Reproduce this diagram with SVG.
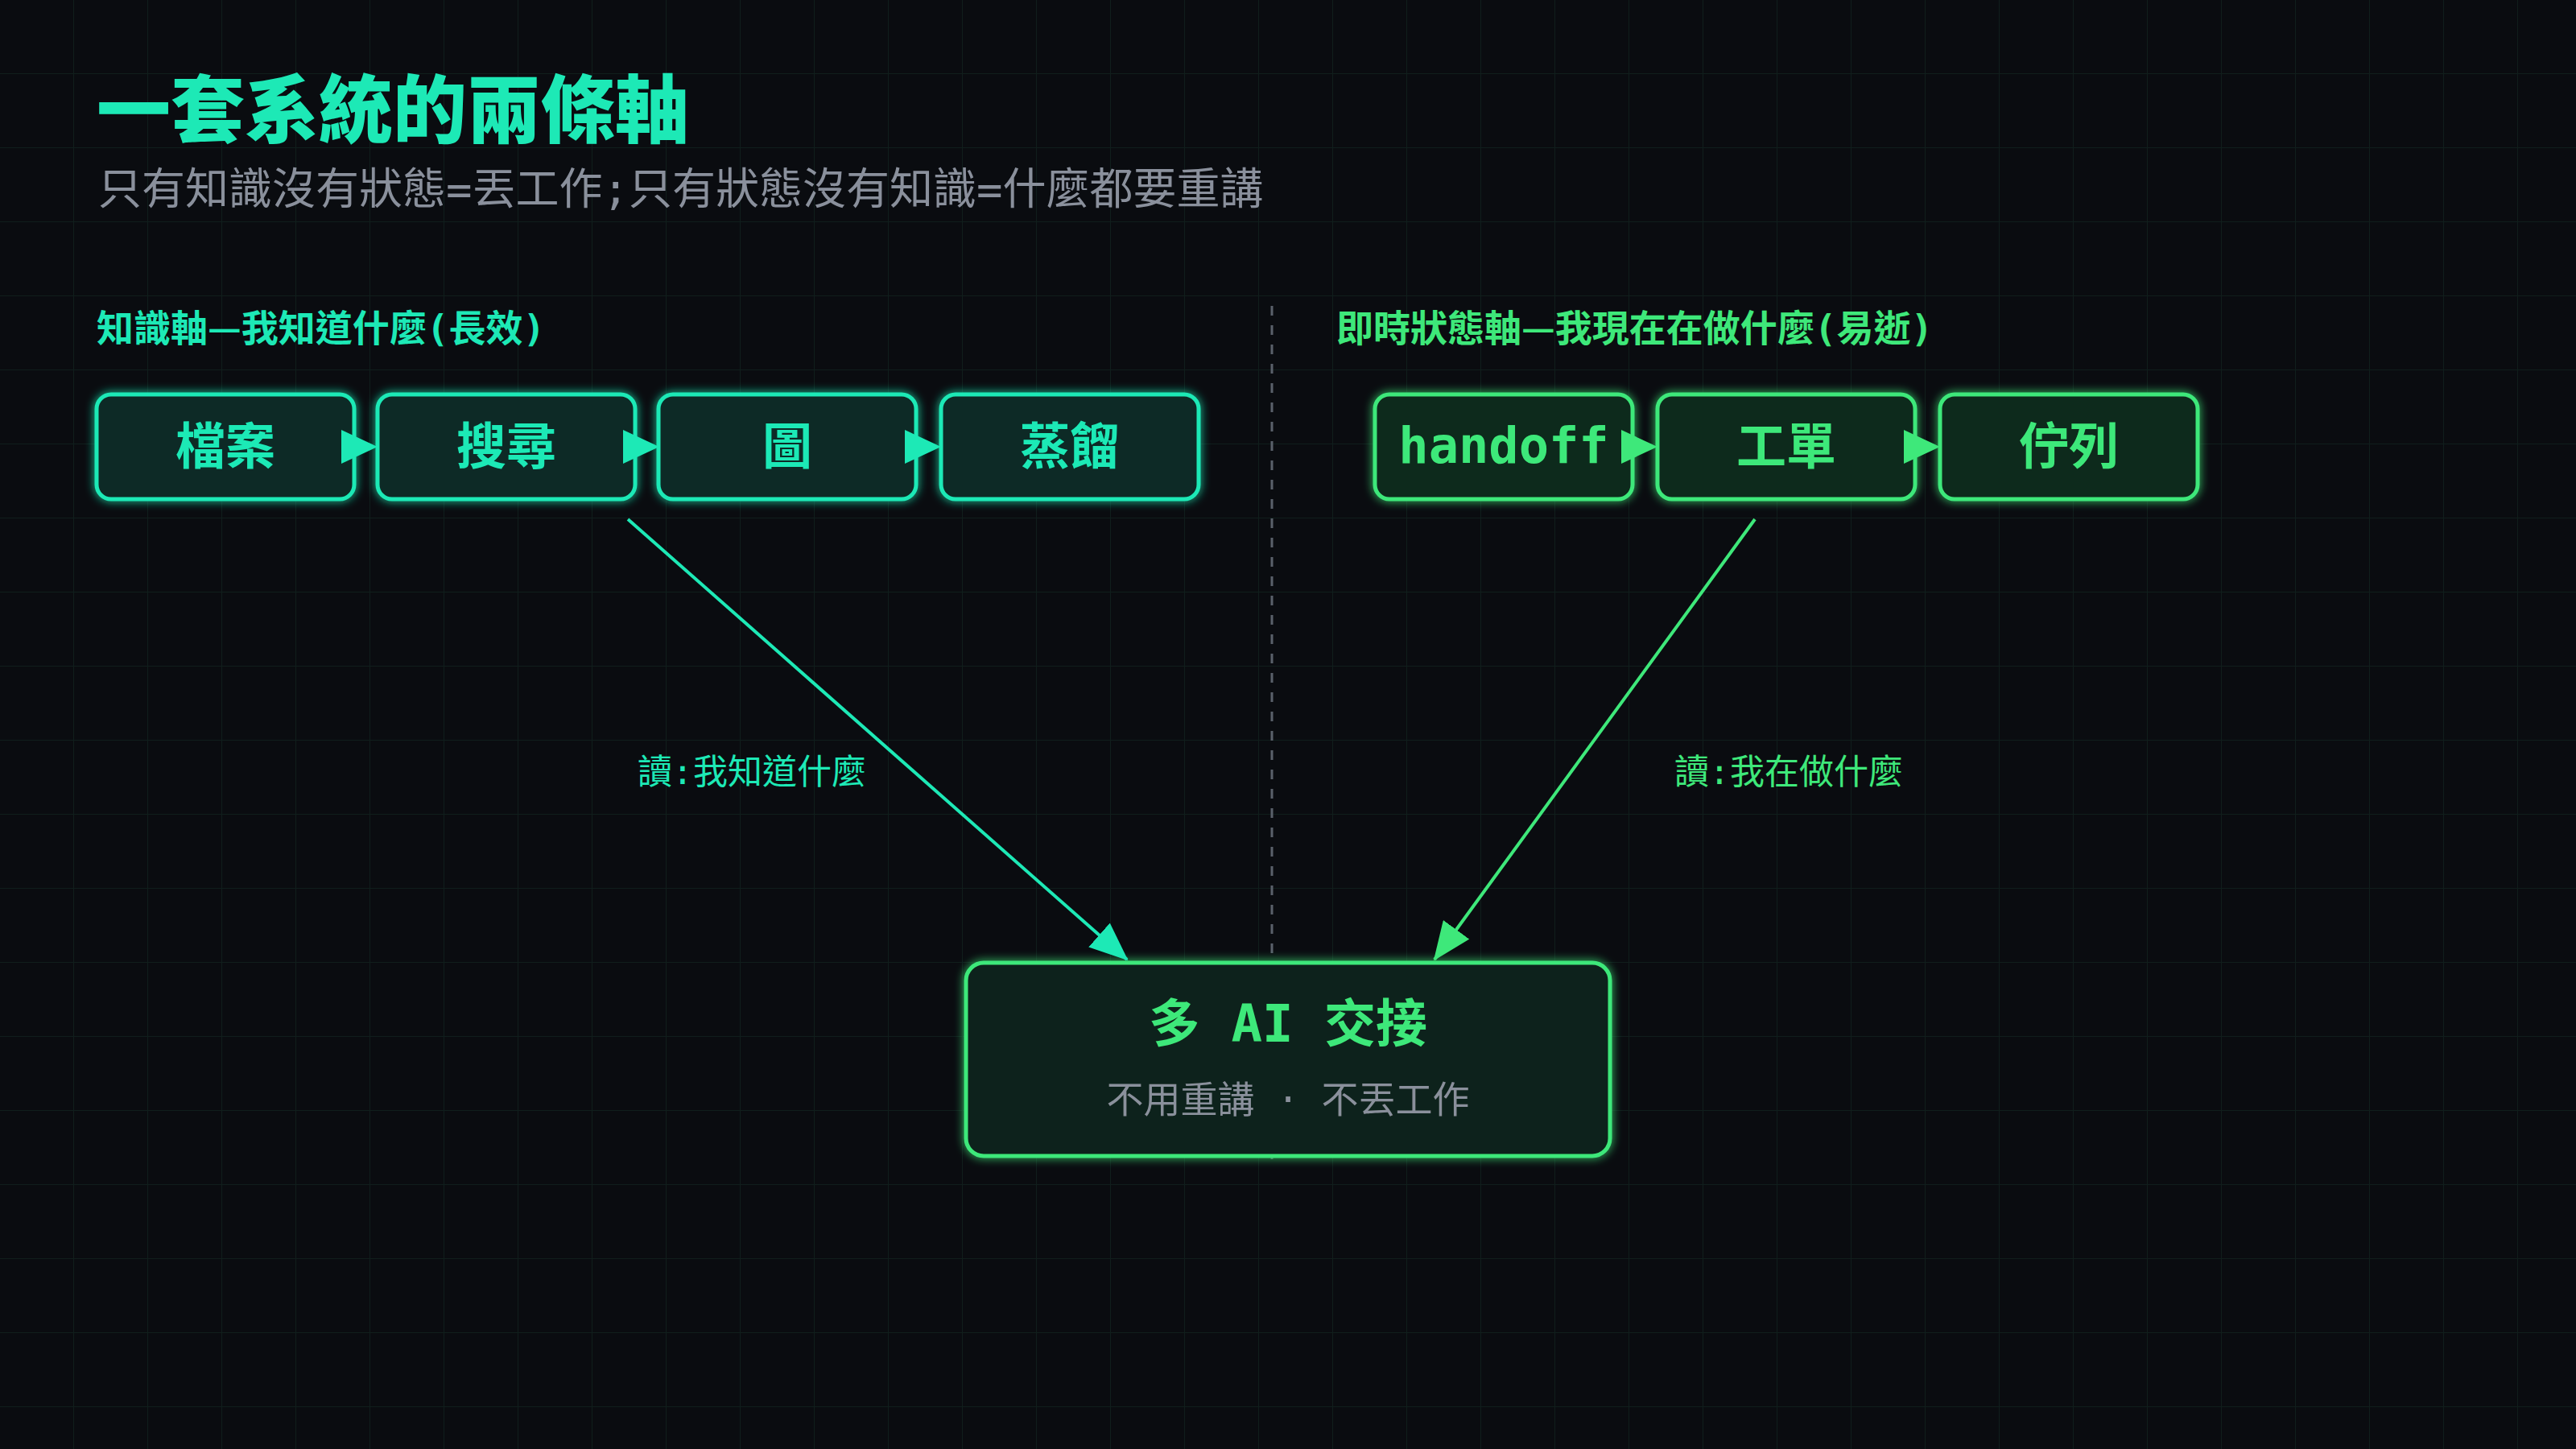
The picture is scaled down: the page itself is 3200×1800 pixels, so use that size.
<svg xmlns="http://www.w3.org/2000/svg" width="3200" height="1800" viewBox="0 0 3200 1800">
<defs>
<pattern id="grid" width="92" height="92" patternUnits="userSpaceOnUse"><path d="M92 0V92M0 92H92" stroke="#163028" stroke-width="2" fill="none" opacity="0.5"/></pattern>
<filter id="glow" x="-20%" y="-20%" width="140%" height="140%"><feGaussianBlur stdDeviation="6" result="b"/><feMerge><feMergeNode in="b"/><feMergeNode in="SourceGraphic"/></feMerge></filter>
<marker id="ta" markerWidth="48" markerHeight="40" refX="46" refY="20" orient="auto" markerUnits="userSpaceOnUse" viewBox="0 0 48 40"><path d="M0,0L48,20L0,40z" fill="#1de9b6"/></marker>
<marker id="ga" markerWidth="48" markerHeight="40" refX="46" refY="20" orient="auto" markerUnits="userSpaceOnUse" viewBox="0 0 48 40"><path d="M0,0L48,20L0,40z" fill="#3ee87a"/></marker>
</defs>
<style>
text{font-family:"DejaVu Sans Mono","Noto Sans CJK TC","Noto Sans CJK SC",monospace}
.cjk{font-family:"Noto Sans CJK TC",sans-serif}
.k rect{fill:#0b2a27;stroke:#1de9b6;stroke-width:5}
.s rect{fill:#10291b;stroke:#3ee87a;stroke-width:5}
.bt{font-size:62px;font-weight:700;text-anchor:middle}
.k .bt{fill:#1de9b6}.s .bt{fill:#3ee87a}
</style>
<rect width="3200" height="1800" fill="#0a0c10"/>
<rect width="3200" height="1800" fill="url(#grid)"/>
<text x="120" y="170" font-size="92" font-weight="900" fill="#1de9b6">一套系統的兩條軸</text>
<text x="122" y="254" font-size="54" fill="#8a909c">只有知識沒有狀態=丟工作;只有狀態沒有知識=什麼都要重講</text>
<text x="120" y="424" font-size="46" font-weight="700" fill="#1de9b6">知識軸<tspan class="cjk">—</tspan>我知道什麼(長效)</text>
<text x="1660" y="424" font-size="46" font-weight="700" fill="#3ee87a">即時狀態軸<tspan class="cjk">—</tspan>我現在在做什麼(易逝)</text>
<line x1="1580" y1="380" x2="1580" y2="1440" stroke="#5a616b" stroke-width="3" stroke-dasharray="12 12"/>
<g id="n1" class="k" filter="url(#glow)"><rect x="120" y="490" width="320" height="130" rx="18"/><text class="bt" x="280" y="577">檔案</text></g>
<g id="n2" class="k" filter="url(#glow)"><rect x="469" y="490" width="320" height="130" rx="18"/><text class="bt" x="629" y="577">搜尋</text></g>
<g id="n3" class="k" filter="url(#glow)"><rect x="818" y="490" width="320" height="130" rx="18"/><text class="bt" x="978" y="577">圖</text></g>
<g id="n4" class="k" filter="url(#glow)"><rect x="1169" y="490" width="320" height="130" rx="18"/><text class="bt" x="1329" y="577">蒸餾</text></g>
<g id="n5" class="s" filter="url(#glow)"><rect x="1708" y="490" width="320" height="130" rx="18"/><text class="bt" x="1868" y="575" font-size="60">handoff</text></g>
<g id="n6" class="s" filter="url(#glow)"><rect x="2059" y="490" width="320" height="130" rx="18"/><text class="bt" x="2219" y="577">工單</text></g>
<g id="n7" class="s" filter="url(#glow)"><rect x="2410" y="490" width="320" height="130" rx="18"/><text class="bt" x="2570" y="577">佇列</text></g>
<g id="hub" filter="url(#glow)"><rect x="1200" y="1196" width="800" height="240" rx="22" fill="#10241a" stroke="#3ee87a" stroke-width="5"/>
<text x="1600" y="1294" font-size="64" font-weight="700" fill="#3ee87a" text-anchor="middle">多 AI 交接</text>
<text x="1600" y="1382" font-size="46" fill="#8a909c" text-anchor="middle">不用重講 · 不丟工作</text></g>
<g id="connectors" fill="none">
<path d="M424 534L469 555L424 576z" fill="#1de9b6"/>
<path d="M774 534L819 555L774 576z" fill="#1de9b6"/>
<path d="M1124 534L1169 555L1124 576z" fill="#1de9b6"/>
<path d="M2014 534L2059 555L2014 576z" fill="#3ee87a"/>
<path d="M2365 534L2410 555L2365 576z" fill="#3ee87a"/>
<line x1="780" y1="645" x2="1400" y2="1192" stroke="#1de9b6" stroke-width="4" marker-end="url(#ta)"/>
<line x1="2180" y1="645" x2="1782" y2="1192" stroke="#3ee87a" stroke-width="4" marker-end="url(#ga)"/>
</g>
<text x="792" y="974" font-size="43" fill="#1de9b6">讀:我知道什麼</text>
<text x="2080" y="974" font-size="43" fill="#3ee87a">讀:我在做什麼</text>
</svg>
